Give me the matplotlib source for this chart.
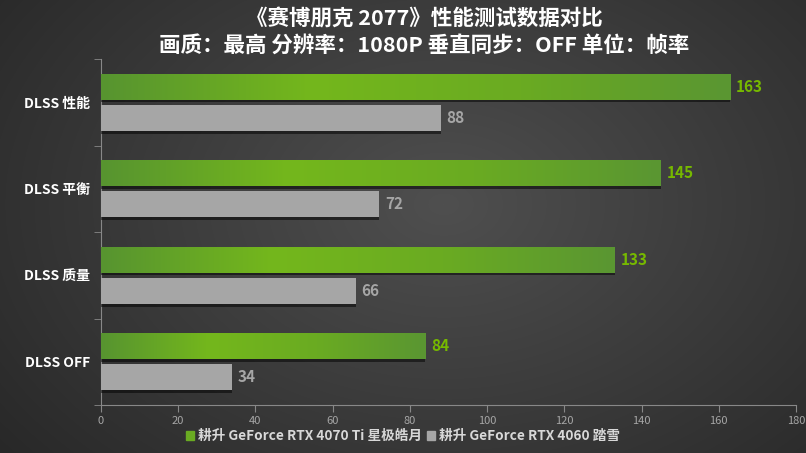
import numpy as np
import matplotlib
matplotlib.use("Agg")
import matplotlib.pyplot as plt
from matplotlib.colors import LinearSegmentedColormap
import matplotlib.patheffects as pe
from matplotlib.patches import Patch

plt.rcParams['font.family'] = ['Noto Sans CJK SC', 'DejaVu Sans']

categories = ["DLSS 性能", "DLSS 平衡", "DLSS 质量", "DLSS OFF"]
series_names = ["耕升 GeForce RTX 4070 Ti 星极皓月", "耕升 GeForce RTX 4060 踏雪"]
rtx4070ti = [163, 145, 133, 84]
rtx4060 = [88, 72, 66, 34]
xticks = [0, 20, 40, 60, 80, 100, 120, 140, 160, 180]
title_lines = ["《赛博朋克 2077》性能测试数据对比", "画质：最高 分辨率：1080P 垂直同步：OFF 单位：帧率"]

W, H = 806, 453
fig = plt.figure(figsize=(W / 100, H / 100), dpi=100)

# radial background
bg = fig.add_axes([0, 0, 1, 1])
yy, xx = np.mgrid[0:H, 0:W]
r = np.sqrt(((xx - W * 0.55) / (W * 0.6)) ** 2 + ((yy - H * 0.45) / (H * 0.75)) ** 2)
v = np.clip(0.31 - 0.13 * r, 0.15, 0.31)
bg.imshow(np.dstack([v, v, v]), extent=[0, 1, 0, 1], aspect='auto')
bg.axis('off')

ax = fig.add_axes([101 / W, 1 - 405 / H, (796 - 101) / W, (405 - 59) / H])
ax.set_facecolor('none')
n = len(categories)
y = np.arange(n)
h = 0.30
off = 0.18

green_cmap = LinearSegmentedColormap.from_list("g", ["#579430", "#74b71c", "#6aab22", "#5a9632"])

shadow = [pe.SimplePatchShadow(offset=(0, -2), shadow_rgbFace='black', alpha=0.5), pe.Normal()]
gb = ax.barh(y - off, rtx4070ti, height=h, color="#6aab22", zorder=3, path_effects=shadow)
sb = ax.barh(y + off, rtx4060, height=h, color="#a6a6a6", zorder=3, path_effects=shadow)

grad = np.linspace(0, 1, 256).reshape(1, -1)
for p in gb:
    x0, y0 = p.get_x(), p.get_y()
    w, hh = p.get_width(), p.get_height()
    im = ax.imshow(grad, cmap=green_cmap, extent=[x0, x0 + w, y0 + hh, y0], aspect='auto', zorder=4)
    im.set_clip_path(p)

for p, val in zip(gb, rtx4070ti):
    ax.text(val + 1.5, p.get_y() + p.get_height() / 2, str(val), color="#76b900",
            fontsize=11, fontweight='bold', va='center', ha='left', zorder=5)
for p, val in zip(sb, rtx4060):
    ax.text(val + 1.5, p.get_y() + p.get_height() / 2, str(val), color="#a6a6a6",
            fontsize=11, fontweight='bold', va='center', ha='left', zorder=5)

ax.set_xlim(0, 180)
ax.set_ylim(n - 0.5, -0.5)
ax.set_xticks(xticks)
ax.set_xticklabels([str(t) for t in xticks], color="#a6a6a6", fontsize=8)
ax.set_yticks(y)
ax.set_yticklabels(categories, color="white", fontsize=10, fontweight='bold')
ax.set_yticks(np.arange(n + 1) - 0.5, minor=True)
ax.tick_params(axis='y', which='major', length=0, pad=8)
ax.tick_params(axis='y', which='minor', length=5, color="#888888")
ax.tick_params(axis='x', length=5, color="#888888", pad=3)
for s in ['top', 'right']:
    ax.spines[s].set_visible(False)
ax.spines['left'].set_color("#888888")
ax.spines['bottom'].set_color("#888888")

fig.text(424 / W, 1 - 19 / H, title_lines[0], ha='center', va='center', color='white',
         fontsize=15.5, fontweight='bold')
fig.text(424 / W, 1 - 45 / H, title_lines[1], ha='center', va='center', color='white',
         fontsize=15.5, fontweight='bold')

handles = [Patch(color="#6aab22"), Patch(color="#a6a6a6")]
leg = fig.legend(handles, series_names, loc='center', bbox_to_anchor=(0.5, 1 - 436 / H), ncol=2,
                 frameon=False, fontsize=9.8, handlelength=0.6, handleheight=0.6,
                 handletextpad=0.3, columnspacing=0.3)
for t in leg.get_texts():
    t.set_color("#d8d8d8")
    t.set_fontweight('bold')

fig.savefig("out.png", dpi=100)
